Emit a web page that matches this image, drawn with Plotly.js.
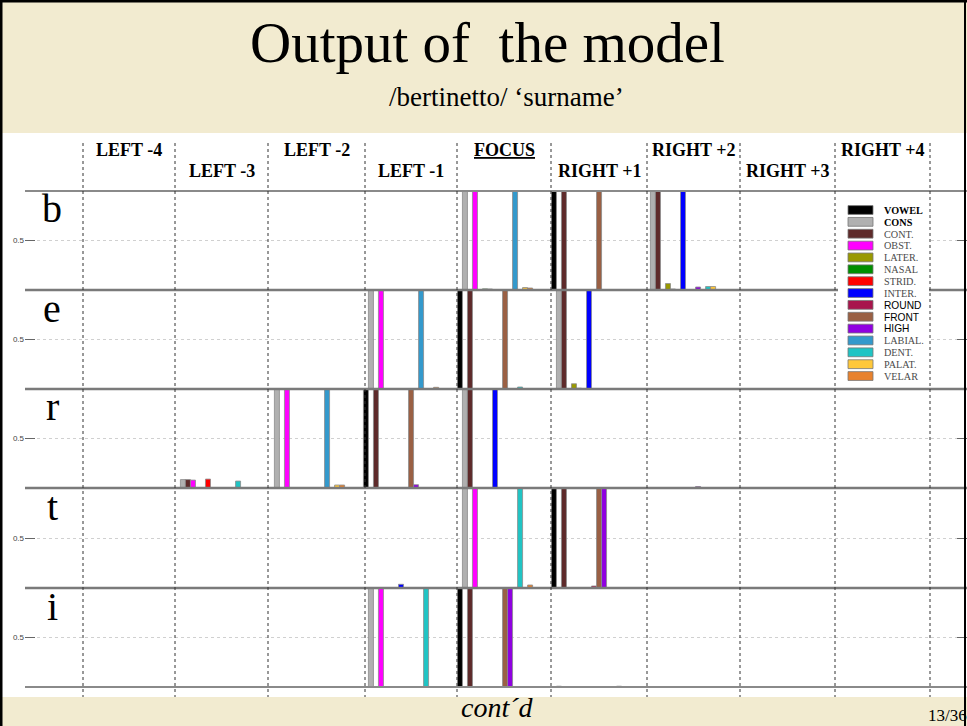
<!DOCTYPE html>
<html>
<head>
<meta charset="utf-8">
<script src="https://cdn.plot.ly/plotly-3.0.1.min.js"></script>
<style>html,body{margin:0;padding:0;background:#fff;}#chart{width:967px;height:726px;}</style>
</head>
<body>
<div id="chart"></div>
<script>
// ---------- DATA ----------
const positions = ['LEFT -4','LEFT -3','LEFT -2','LEFT -1','FOCUS','RIGHT +1','RIGHT +2','RIGHT +3','RIGHT +4'];
const features = ['VOWEL','CONS','CONT','OBST','LATER','NASAL','STRID','INTER','ROUND','FRONT','HIGH','LABIAL','DENT','PALAT','VELAR'];
const legendLabels = ['VOWEL','CONS','CONT.','OBST.','LATER.','NASAL','STRID.','INTER.','ROUND','FRONT','HIGH','LABIAL.','DENT.','PALAT.','VELAR'];
const legendStyles = ['bold','bold','serif','serif','serif','serif','serif','serif','sans','sans','sans','serif','serif','serif','serif'];
const featureColors = ['#000000','#b0b0b0','#5e2a2a','#ff00ff','#999900','#008f00','#ff0000','#0000ff','#a8144c','#9a6044','#8f00e0','#3399cc','#20c4c4','#ffc83a','#e8822e'];
const segments = ['b','e','r','t','i'];

// activation per position (rows) x feature (columns, same order as features)
const segB = [
  [0,0,0,0,0,0,0,0,0,0,0,0,0,0,0],
  [0,0,0,0,0,0,0,0,0,0,0,0,0,0,0],
  [0,0,0,0,0,0,0,0,0,0,0,0,0,0,0],
  [0,0,0,0,0,0,0,0,0,0,0,0,0,0,0],
  [0,1,0,1,0,0.012,0.01,0,0,0,0,1,0,0.025,0.02],
  [1,0,1,0,0,0,0,0,0,1,0,0,0,0,0],
  [0,1,1,0,0.065,0.01,0,1,0,0,0.03,0,0.035,0.035,0],
  [0,0,0,0,0,0,0,0,0,0,0,0,0,0,0],
  [0,0,0,0,0,0,0,0,0,0,0,0,0,0,0]
];
const segE = [
  [0,0,0,0,0,0,0,0,0,0,0,0,0,0,0],
  [0,0,0,0,0,0,0,0,0,0,0,0,0,0,0],
  [0,0,0,0,0,0,0,0,0,0,0,0,0,0,0],
  [0,1,0,1,0,0,0,0,0,0,0,1,0,0,0.017],
  [1,0,1,0,0,0,0,0,0,1,0,0,0.02,0,0],
  [0,1,1,0,0.053,0.008,0,1,0,0,0,0,0,0,0],
  [0,0,0,0,0,0,0,0,0,0,0,0,0,0,0],
  [0,0,0,0,0,0,0,0,0,0,0,0,0,0,0],
  [0,0,0,0,0,0,0,0,0,0,0,0,0,0,0]
];
const segR = [
  [0,0,0,0,0,0,0,0,0,0,0,0,0,0,0],
  [0,0.085,0.085,0.08,0,0,0.09,0,0,0,0,0,0.07,0,0],
  [0,1,0,1,0,0,0,0,0,0,0,1,0,0.03,0.03],
  [1,0,1,0,0,0,0,0,0,1,0.033,0,0,0,0],
  [0,1,1,0,0,0,0,1,0,0,0,0,0,0,0],
  [0,0,0,0,0,0,0,0,0,0,0,0,0,0,0],
  [0,0,0,0,0,0,0,0,0,0,0.015,0,0,0,0],
  [0,0,0,0,0,0,0,0,0,0,0,0,0,0,0],
  [0,0,0,0,0,0,0,0,0,0,0,0,0,0,0]
];
const segT = [
  [0,0,0,0,0,0,0,0,0,0,0,0,0,0,0],
  [0,0,0,0,0,0,0,0,0,0,0,0,0,0,0],
  [0,0,0,0,0,0,0,0,0,0,0,0,0,0,0],
  [0,0,0,0,0,0,0,0.037,0,0,0,0,0,0,0],
  [0,1,0,1,0,0,0,0,0,0,0,0,1,0,0.03],
  [1,0,1,0,0,0,0,0,0.02,1,1,0,0,0,0],
  [0,0,0,0,0,0,0,0,0,0,0,0,0,0,0],
  [0,0,0,0,0,0,0,0,0,0,0,0,0,0,0],
  [0,0,0,0,0,0,0,0,0,0,0,0,0,0,0]
];
const segI = [
  [0,0,0,0,0,0,0,0,0,0,0,0,0,0,0],
  [0,0,0,0,0,0,0,0,0,0,0,0,0,0,0],
  [0,0,0,0,0,0,0,0,0,0,0,0,0,0,0],
  [0,1,0,1,0,0,0,0,0,0,0,0,1,0,0],
  [1,0,1,0,0,0,0,0,0,1,1,0,0,0,0],
  [0,0.008,0,0,0,0,0,0,0,0,0,0,0,0.008,0],
  [0,0,0,0,0,0,0,0,0,0,0,0,0,0,0],
  [0,0,0,0,0,0,0,0,0,0,0,0,0,0,0],
  [0,0,0,0,0,0,0,0,0,0,0,0,0,0,0]
];
const segData = [segB, segE, segR, segT, segI];

// ---------- LAYOUT HELPERS ----------
const W = 967, H = 726;
const px = v => v / W;
const py = v => 1 - v / H;
const rowTops = [191, 290, 389, 488, 588];
const rowBots = [290, 389, 488, 588, 687];
const dividers = [83, 175, 268, 365, 457, 551, 647, 740, 835, 930];
const beige = '#f2ebd0';
const serif = 'Liberation Serif, Times New Roman, serif';
const sans = 'Liberation Sans, Arial, sans-serif';
const legendStep = 11.86;
const legendTop = 210;

// ---------- TRACES ----------
const traces = [];
segData.forEach((seg, s) => {
  features.forEach((f, k) => {
    traces.push({
      type: 'bar',
      name: f,
      x: positions,
      y: seg.map(row => row[k]),
      xaxis: 'x',
      yaxis: s === 0 ? 'y' : 'y' + (s + 1),
      marker: {color: featureColors[k], line: {color: '#8c8c8c', width: 0.8}},
      showlegend: false,
      hoverinfo: 'skip'
    });
  });
});

const layout = {
  width: W, height: H,
  margin: {l: 0, r: 0, t: 0, b: 0},
  paper_bgcolor: '#ffffff',
  plot_bgcolor: 'rgba(0,0,0,0)',
  barmode: 'group',
  bargap: 0.2,
  bargroupgap: 0,
  showlegend: false,
  xaxis: {
    domain: [px(25), 1], range: [-1, 9.021], type: 'category',
    showticklabels: false, ticks: '', showgrid: false, zeroline: false, showline: false,
    anchor: 'y5', fixedrange: true
  },
  shapes: [],
  annotations: []
};

segments.forEach((seg, s) => {
  const key = s === 0 ? 'yaxis' : 'yaxis' + (s + 1);
  layout[key] = {
    domain: [py(rowBots[s]), py(rowTops[s])],
    range: [0, 1], anchor: 'x',
    tickvals: [0.5], ticktext: ['0.5'],
    ticks: 'inside', ticklen: 10, tickcolor: '#666', tickwidth: 1,
    mirror: 'ticks', showline: false,
    showgrid: true, gridcolor: '#d0d0d0', griddash: 'dot', gridwidth: 1,
    zeroline: false,
    tickfont: {family: sans, size: 8, color: '#444'},
    fixedrange: true
  };
  layout.annotations.push({
    xref: 'paper', yref: 'paper', x: px(52), y: py(rowTops[s] + 18),
    text: seg, showarrow: false, xanchor: 'center', yanchor: 'middle',
    font: {family: serif, size: 40, color: '#000'}
  });
});

// header and footer bands
layout.shapes.push({type: 'rect', xref: 'paper', yref: 'paper', x0: 0, x1: 1, y0: py(133), y1: 1, fillcolor: beige, line: {width: 0}, layer: 'below'});
layout.shapes.push({type: 'rect', xref: 'paper', yref: 'paper', x0: 0, x1: 1, y0: 0, y1: py(697), fillcolor: beige, line: {width: 0}, layer: 'below'});

// subplot horizontal borders
[191, 290, 389, 488, 588, 687].forEach((y, i, arr) => {
  const outer = (i === 0 || i === arr.length - 1);
  layout.shapes.push({type: 'line', xref: 'paper', yref: 'paper', x0: px(25), x1: 1, y0: py(y), y1: py(y),
    line: {color: outer ? '#8a8a8a' : '#7a7a7a', width: outer ? 1.8 : 2.5}, layer: 'above'});
});

// legend background box
layout.shapes.push({type: 'rect', xref: 'paper', yref: 'paper', x0: px(838), x1: px(929), y0: py(386), y1: py(198),
  fillcolor: '#ffffff', line: {width: 0}, layer: 'above'});

// dotted column dividers
dividers.forEach(x => {
  layout.shapes.push({type: 'line', xref: 'paper', yref: 'paper', x0: px(x), x1: px(x), y0: py(143), y1: py(697),
    line: {color: '#333', width: 1, dash: 'dot'}, layer: 'above'});
});

// column labels
positions.forEach((p, i) => {
  const cx = (dividers[i] + dividers[i + 1]) / 2;
  const cy = i % 2 === 0 ? 150 : 171;
  const txt = p === 'FOCUS' ? '<b><span style="text-decoration:underline">FOCUS</span></b>' : '<b>' + p + '</b>';
  layout.annotations.push({xref: 'paper', yref: 'paper', x: px(cx), y: py(cy), text: txt, showarrow: false,
    xanchor: 'center', yanchor: 'middle', font: {family: serif, size: 18, color: '#000'}});
});

// legend (manual, built from features)
features.forEach((f, k) => {
  const cy = legendTop + k * legendStep;
  layout.shapes.push({type: 'rect', xref: 'paper', yref: 'paper', x0: px(848), x1: px(873), y0: py(cy + 4.4), y1: py(cy - 4.4),
    fillcolor: featureColors[k], line: {color: '#777', width: 0.8}, layer: 'above'});
  const st = legendStyles[k];
  layout.annotations.push({xref: 'paper', yref: 'paper', x: px(882), y: py(cy + 0.3),
    text: st === 'bold' ? '<b>' + legendLabels[k] + '</b>' : legendLabels[k],
    showarrow: false, xanchor: 'left', yanchor: 'middle',
    font: {family: st === 'sans' ? sans : serif, size: 10.2, color: st === 'serif' ? '#4a4a4a' : '#000'}});
});

// frame
layout.shapes.push({type: 'rect', xref: 'paper', yref: 'paper', x0: 0, x1: px(2.5), y0: 0, y1: 1, fillcolor: '#000', line: {width: 0}, layer: 'above'});
layout.shapes.push({type: 'rect', xref: 'paper', yref: 'paper', x0: 0, x1: 1, y0: py(2.5), y1: 1, fillcolor: '#000', line: {width: 0}, layer: 'above'});
layout.shapes.push({type: 'rect', xref: 'paper', yref: 'paper', x0: px(964), x1: px(966), y0: 0, y1: 1, fillcolor: '#000', line: {width: 0}, layer: 'above'});

// titles and footer text
layout.annotations.push({xref: 'paper', yref: 'paper', x: px(487), y: py(43), text: 'Output of\u00A0 the model', showarrow: false,
  xanchor: 'center', yanchor: 'middle', font: {family: serif, size: 57, color: '#000'}});
layout.annotations.push({xref: 'paper', yref: 'paper', x: px(506), y: py(97), text: '/bertinetto/ \u2018surname\u2019', showarrow: false,
  xanchor: 'center', yanchor: 'middle', font: {family: serif, size: 27, color: '#000'}});
layout.annotations.push({xref: 'paper', yref: 'paper', x: px(497), y: py(707), text: '<i>cont\u00B4d</i>', showarrow: false,
  xanchor: 'center', yanchor: 'middle', font: {family: serif, size: 28, color: '#000'}});
layout.annotations.push({xref: 'paper', yref: 'paper', x: px(926), y: py(715), text: '13/36', showarrow: false,
  xanchor: 'left', yanchor: 'middle', font: {family: serif, size: 17, color: '#000'}});

Plotly.newPlot('chart', traces, layout, {staticPlot: true, displayModeBar: false});
</script>
</body>
</html>
